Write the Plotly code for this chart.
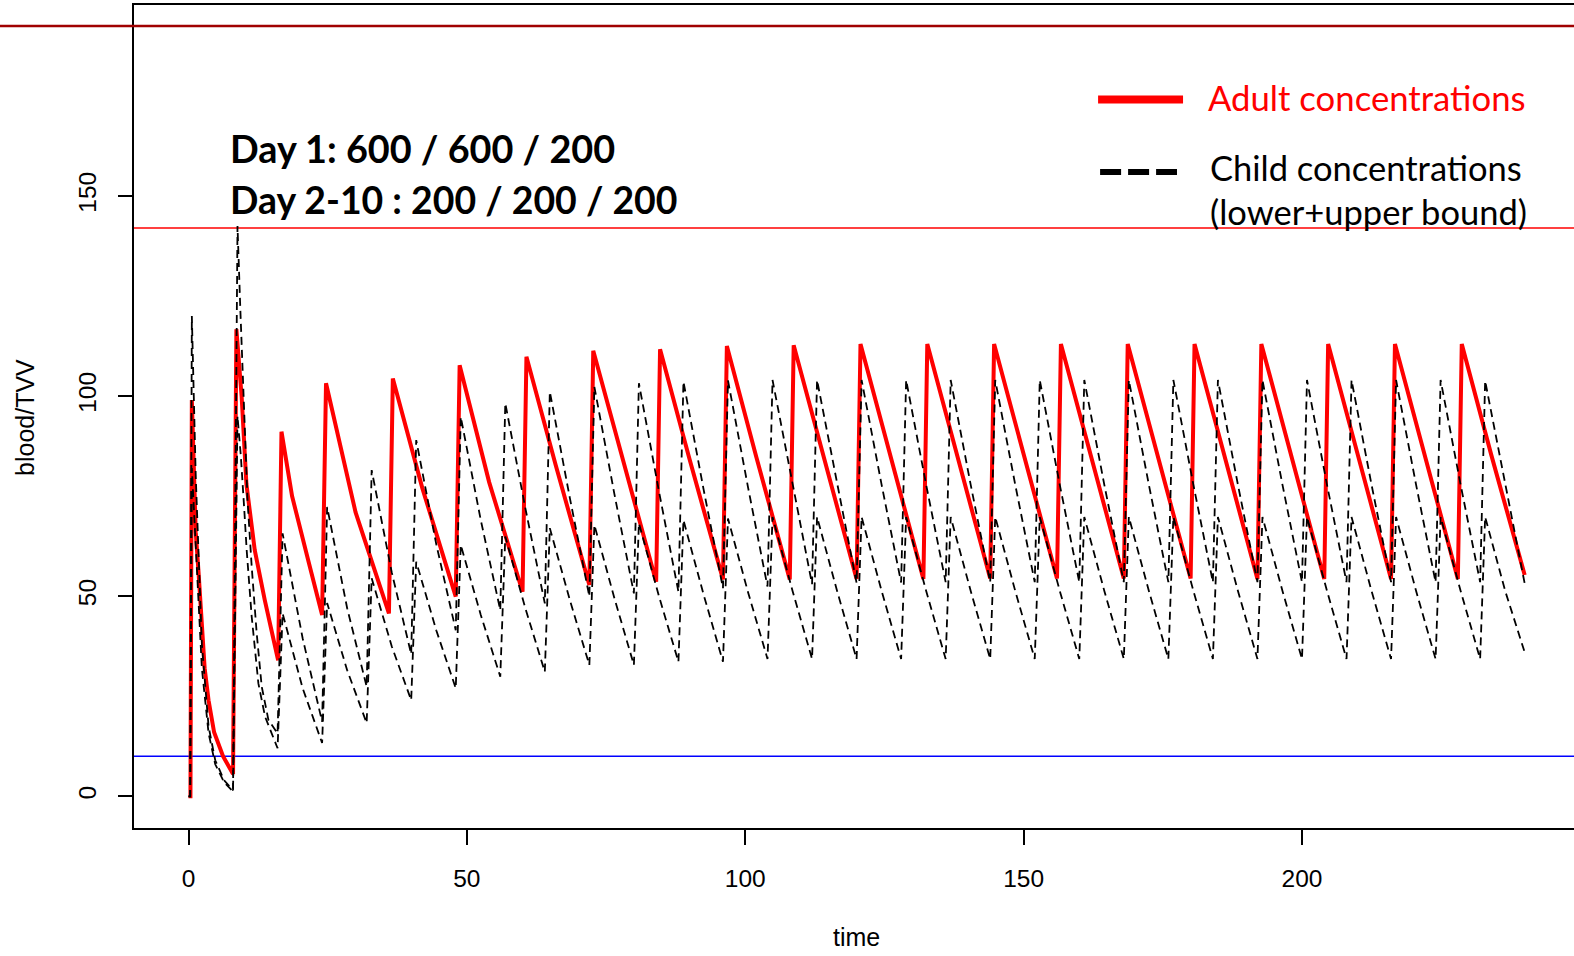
import plotly.graph_objects as go

# ---------------- data ----------------
# Adult concentrations: first day (three doses) read point by point
ADULT_EARLY_T = [0.0, 0.35, 0.6, 0.9, 1.3, 1.8, 2.4, 2.9, 3.6, 4.6, 6.2, 8.0,
                 8.6, 9.55, 10.4, 11.9, 13.7, 15.5, 16.1,
                 16.7, 18.6, 21.5, 24.0]
ADULT_EARLY_Y = [0.0, 0.0, 99.0, 84.0, 66.0, 56.0, 41.0, 32.0, 24.0, 16.0, 10.0, 5.6,
                 116.7, 99.8, 78.0, 61.5, 49.0, 37.4, 34.0,
                 91.1, 75.0, 59.0, 45.3]
# Adult: from day 2, one dose every 12 h (dose time, peak, value 6 h after dose, trough at next dose)
ADULT_DOSE_T = [24, 36, 48, 60, 72, 84, 96, 108, 120, 132, 144, 156, 168, 180, 192, 204, 216, 228]
ADULT_PEAK = [103.2, 104.4, 107.7, 109.8, 111.3, 111.7, 112.5, 112.7, 113.0, 113.0,
              113.0, 113.0, 113.0, 113.0, 113.0, 113.0, 113.0, 113.0]
ADULT_MID = [71.0, 77.0, 78.5, 82.5, 83.8, 84.2, 84.7, 85.0, 85.3, 85.3,
             85.3, 85.3, 85.3, 85.3, 85.3, 85.3, 85.3, 85.3]
ADULT_TROUGH = [45.7, 49.9, 51.1, 52.8, 53.6, 54.2, 54.2, 54.3, 54.3, 54.4,
                54.4, 54.4, 54.4, 54.3, 54.3, 54.3, 54.3, 55.3]
ADULT_END_T = 240

# Child concentrations: first two doses read point by point
CHILD_UP_EARLY_T = [0.0, 0.3, 0.6, 1.3, 2.4, 3.6, 4.8, 6.4, 8.0,
                    8.8, 9.3, 10.0, 10.6, 11.35, 12.25, 13.15, 14.35, 16.0]
CHILD_UP_EARLY_Y = [0.0, 0.0, 120.0, 80.0, 38.0, 17.5, 9.0, 4.0, 1.5,
                    142.5, 122.0, 95.0, 74.0, 57.4, 40.7, 27.4, 19.1, 15.7]
CHILD_LO_EARLY_T = [0.0, 0.3, 0.6, 1.2, 2.4, 3.6, 4.8, 6.4, 8.0,
                    8.8, 9.4, 10.0, 10.45, 11.35, 12.55, 13.75, 15.5, 16.0]
CHILD_LO_EARLY_Y = [0.0, 0.0, 82.0, 64.0, 32.0, 15.8, 8.0, 3.5, 1.2,
                    95.0, 85.0, 72.0, 61.5, 44.9, 28.2, 19.9, 14.1, 12.0]
# Child: one dose every 8 h from t = 16 (peak, value 4.5 h after dose, trough at next dose)
CHILD_DOSE_T = [16, 24, 32, 40, 48, 56, 64, 72, 80, 88, 96, 104, 112, 120,
                128, 136, 144, 152, 160, 168, 176, 184, 192, 200, 208, 216, 224, 232]
CHILD_UP_PEAK = [65.7, 72.3, 81.5, 89.0, 94.8, 98.2, 101.1, 102.3, 103.2, 103.6, 103.9, 104.0, 104.0, 104.0,
                 104.0, 104.0, 104.0, 104.0, 104.0, 104.0, 104.0, 104.0, 104.0, 104.0, 104.0, 104.0, 104.0, 103.8]
CHILD_UP_MID = [39.5, 47.0, 56.0, 63.0, 69.0, 72.0, 74.5, 75.5, 76.2, 76.8, 77.2, 77.8, 77.8, 77.8,
                77.8, 77.8, 77.8, 77.8, 77.8, 77.8, 77.8, 77.8, 77.8, 77.8, 77.8, 77.8, 77.8, 77.8]
CHILD_UP_TROUGH = [18.6, 27.4, 35.5, 41.5, 46.5, 48.2, 49.9, 50.7, 51.1, 52.0, 52.4, 53.0, 53.3, 53.4,
                   53.5, 53.5, 53.5, 53.5, 53.5, 53.5, 53.5, 53.5, 53.5, 53.5, 53.5, 53.5, 53.5, 53.2]
CHILD_LO_PEAK = [45.7, 48.3, 54.5, 58.6, 62.8, 64.9, 67.0, 67.8, 68.2, 69.0, 69.4, 69.8, 69.8, 69.8,
                 69.8, 69.8, 69.8, 69.8, 69.8, 69.8, 69.8, 69.8, 69.8, 69.8, 69.8, 69.8, 69.8, 69.8]
CHILD_LO_MID = [27.0, 31.5, 37.5, 41.5, 45.3, 47.0, 49.0, 49.5, 50.0, 50.5, 51.0, 51.3, 51.3, 51.3,
                51.3, 51.3, 51.3, 51.3, 51.3, 51.3, 51.3, 51.3, 51.3, 51.3, 51.3, 51.3, 51.3, 51.3]
CHILD_LO_TROUGH = [13.3, 18.3, 24.0, 27.0, 29.9, 31.1, 32.8, 32.8, 33.6, 33.6, 34.3, 34.3, 34.3, 34.3,
                   34.3, 34.3, 34.3, 34.3, 34.3, 34.3, 34.3, 34.3, 34.3, 34.3, 34.3, 34.3, 34.3, 36.0]
CHILD_END_T = 240

# reference levels (horizontal lines)
UPPER_LIMIT = 142
LOWER_LIMIT = 10

X_TICKS = [0, 50, 100, 150, 200]
Y_TICKS = [0, 50, 100, 150]

TEXT_DOSES = ["Day 1: 600 / 600 / 200", "Day 2-10 : 200 / 200 / 200"]
LEGEND_ADULT = "Adult concentrations"
LEGEND_CHILD = ["Child concentrations", "(lower+upper bound)"]


# ---------------- build series ----------------
def build(early_t, early_y, doses, peak, mid, trough, end_t, lag, mid_off):
    t = list(early_t)
    y = list(early_y)
    for i, d in enumerate(doses):
        nxt = doses[i + 1] if i + 1 < len(doses) else end_t
        t += [d + lag, d + mid_off, nxt]
        y += [peak[i], mid[i], trough[i]]
    return t, y


adult_t, adult_y = build(ADULT_EARLY_T, ADULT_EARLY_Y, ADULT_DOSE_T, ADULT_PEAK,
                         ADULT_MID, ADULT_TROUGH, ADULT_END_T, 0.7, 6.0)
up_t, up_y = build(CHILD_UP_EARLY_T, CHILD_UP_EARLY_Y, CHILD_DOSE_T, CHILD_UP_PEAK,
                   CHILD_UP_MID, CHILD_UP_TROUGH, CHILD_END_T, 0.9, 4.5)
lo_t, lo_y = build(CHILD_LO_EARLY_T, CHILD_LO_EARLY_Y, CHILD_DOSE_T, CHILD_LO_PEAK,
                   CHILD_LO_MID, CHILD_LO_TROUGH, CHILD_END_T, 0.9, 4.5)

fig = go.Figure()
fig.add_trace(go.Scatter(x=adult_t, y=adult_y, mode="lines",
                         line=dict(color="#FF0000", width=4), name=LEGEND_ADULT))
fig.add_trace(go.Scatter(x=lo_t, y=lo_y, mode="lines",
                         line=dict(color="#000000", width=1.8, dash="8px,5px"), name="child lower"))
fig.add_trace(go.Scatter(x=up_t, y=up_y, mode="lines",
                         line=dict(color="#000000", width=1.8, dash="8px,5px"), name="child upper"))

# reference lines
fig.add_shape(type="line", xref="paper", x0=0, x1=1, yref="y", y0=UPPER_LIMIT, y1=UPPER_LIMIT,
              line=dict(color="#FF0000", width=1.5), layer="below")
fig.add_shape(type="line", xref="paper", x0=0, x1=1, yref="y", y0=LOWER_LIMIT, y1=LOWER_LIMIT,
              line=dict(color="#0000FF", width=1.5), layer="below")
# slide decoration line at the top
fig.add_shape(type="line", xref="paper", x0=-0.1, x1=1.0, yref="paper", y0=0.9745, y1=0.9745,
              line=dict(color="#A00000", width=2.5))

FONT_R = "Liberation Sans, Arial, sans-serif"
FONT_SLIDE = "Lato, Open Sans, sans-serif"

# dose text
fig.add_annotation(text="<b>%s</b>" % TEXT_DOSES[0], xref="paper", yref="paper", x=0.065, y=0.8259,
                   xanchor="left", yanchor="middle", showarrow=False,
                   font=dict(family=FONT_SLIDE, size=37.8, color="black"))
fig.add_annotation(text="<b>%s</b>" % TEXT_DOSES[1], xref="paper", yref="paper", x=0.065, y=0.7631,
                   xanchor="left", yanchor="middle", showarrow=False,
                   font=dict(family=FONT_SLIDE, size=37.4, color="black"))

# legend
fig.add_shape(type="line", xref="paper", yref="paper", x0=0.6695, x1=0.7285, y0=0.8852, y1=0.8852,
              line=dict(color="#FF0000", width=8))
fig.add_shape(type="line", xref="paper", yref="paper", x0=0.6709, x1=0.7243, y0=0.7971, y1=0.7971,
              line=dict(color="#000000", width=6, dash="21px,7px"))
fig.add_annotation(text=LEGEND_ADULT, xref="paper", yref="paper", x=0.7444, y=0.8876,
                   xanchor="left", yanchor="middle", showarrow=False,
                   font=dict(family=FONT_SLIDE, size=34.7, color="#FF0000"))
fig.add_annotation(text=LEGEND_CHILD[0], xref="paper", yref="paper", x=0.7458, y=0.8023,
                   xanchor="left", yanchor="middle", showarrow=False,
                   font=dict(family=FONT_SLIDE, size=34.5, color="black"))
fig.add_annotation(text=LEGEND_CHILD[1], xref="paper", yref="paper", x=0.7458, y=0.7487,
                   xanchor="left", yanchor="middle", showarrow=False,
                   font=dict(family=FONT_SLIDE, size=34.5, color="black"))

# axis titles
fig.add_annotation(text="blood/TVV", xref="paper", yref="paper", x=-0.0757, y=0.4994,
                   xanchor="center", yanchor="middle", textangle=-90, showarrow=False,
                   font=dict(family=FONT_R, size=25, color="black"))
fig.add_annotation(text="time", xref="paper", yref="paper", x=0.5014, y=-0.1325,
                   xanchor="center", yanchor="middle", showarrow=False,
                   font=dict(family=FONT_R, size=25, color="black"))

fig.update_layout(
    width=1574, height=956,
    margin=dict(l=134, r=0, t=5, b=128),
    plot_bgcolor="white", paper_bgcolor="white",
    showlegend=False,
    xaxis=dict(range=[-9.79, 248.86], tickvals=X_TICKS, ticks="outside", ticklen=15,
               tickwidth=1.5, tickcolor="black", showline=True, linecolor="black",
               linewidth=1.5, mirror=True, showgrid=False, zeroline=False,
               tickfont=dict(family=FONT_R, size=24.5, color="black"), ticklabelstandoff=13),
    yaxis=dict(range=[-7.92, 197.7], tickvals=Y_TICKS, ticks="outside", ticklen=14,
               tickwidth=1.5, tickcolor="black", showline=True, linecolor="black",
               linewidth=1.5, mirror=False, showgrid=False, zeroline=False, tickangle=-90,
               tickfont=dict(family=FONT_R, size=24.5, color="black"), ticklabelstandoff=12),
)

fig.write_html("out.html", config={"displayModeBar": False},
               post_script="document.body.style.margin='0px';document.body.style.overflow='hidden';")
